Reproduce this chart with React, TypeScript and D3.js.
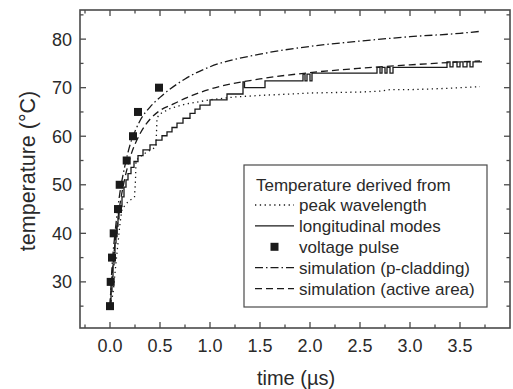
import React from "react";
import * as d3 from "d3";

const W = 513;
const H = 389;

const xTicks = [0, 0.5, 1.0, 1.5, 2.0, 2.5, 3.0, 3.5];
const xMinor = [-0.25, 0.25, 0.75, 1.25, 1.75, 2.25, 2.75, 3.25, 3.75];
const yTicks = [30, 40, 50, 60, 70, 80];
const yMinor = [25, 35, 45, 55, 65, 75, 85];

// voltage pulse (squares)
const pulseT = [0.0, 0.007, 0.02, 0.037, 0.08, 0.097, 0.167, 0.23, 0.28, 0.49];
const pulseV = [25, 30, 35, 40, 45, 50, 55, 60, 65, 70];

// simulation (p-cladding), dash-dot
const pcladT = [0, 0.02, 0.05, 0.1, 0.15, 0.2, 0.25, 0.3, 0.4, 0.5, 0.75, 1.0, 1.5, 2.0, 2.5, 3.0, 3.5, 3.7];
const pcladV = [25, 33, 40, 48.5, 54, 58.2, 61, 63.2, 66, 68, 71.8, 74.3, 76.9, 78.5, 79.6, 80.5, 81.2, 81.6];

// simulation (active area), dashed
const activeT = [0, 0.02, 0.05, 0.1, 0.15, 0.2, 0.3, 0.4, 0.5, 0.63, 0.75, 1.0, 1.5, 2.0, 2.5, 3.0, 3.5, 3.7];
const activeV = [25, 31, 38, 46, 51.5, 55.5, 60.5, 63.5, 65.3, 66.6, 67.8, 69.7, 71.8, 73.1, 74.0, 74.7, 75.3, 75.5];

// peak wavelength, dotted
const peakT = [0, 0.03, 0.06, 0.1, 0.12, 0.18, 0.245, 0.255, 0.26, 0.3, 0.35, 0.4, 0.46, 0.47, 0.5, 0.6, 0.75, 1.0, 1.25, 1.5, 2.0, 2.5, 2.7, 2.8, 3.0, 3.3, 3.5, 3.7];
const peakV = [25, 27.5, 34, 42, 45, 46.5, 47.5, 51, 55, 55.8, 56.5, 57.1, 57.8, 63.8, 64.6, 65.7, 66.6, 67.5, 68.1, 68.4, 68.9, 69.1, 69.3, 69.6, 69.6, 69.8, 70, 70.2];

// longitudinal modes, solid staircase (step starts)
const modesT = [0, 0.01, 0.02, 0.03, 0.04, 0.05, 0.06, 0.07, 0.08, 0.09, 0.1, 0.12, 0.14, 0.16, 0.18, 0.21, 0.24, 0.28, 0.33, 0.4, 0.46, 0.52, 0.57, 0.62, 0.67, 0.73, 0.8, 0.85, 0.9, 1.0, 1.17, 1.33, 1.345, 1.55, 1.93, 1.95, 1.97, 2.0, 2.02, 2.08, 2.67, 2.7, 2.72, 2.75, 2.77, 2.8, 2.83, 2.87, 3.37, 3.4, 3.43, 3.47, 3.5, 3.53, 3.57, 3.6, 3.63, 3.72];
const modesV = [25, 28, 31, 33.5, 36, 38, 40, 41.5, 43, 44.5, 45.5, 47.5, 49.5, 51, 52.3, 53.6, 54.8, 56, 57.2, 58.2, 59.2, 60.1, 60.9, 61.8, 62.7, 63.7, 64.7, 65.6, 66.4, 67.5, 68.7, 71.2, 70.0, 71.4, 72.8, 71.4, 72.8, 71.4, 73, 73, 74.2, 73, 74.2, 73, 74.2, 73, 74.2, 74.2, 75.3, 74.3, 75.3, 74.3, 75.3, 74.3, 75.3, 74.3, 75.3, 75.3];

const legendItems = [
  "peak wavelength",
  "longitudinal modes",
  "voltage pulse",
  "simulation (p-cladding)",
  "simulation (active area)",
];

const FONT = "'Liberation Sans', Arial, sans-serif";
const INK = "#1a1a1a";
const AXIS = "#4a4a4a";

export default function App() {
  const x = d3.scaleLinear().domain([-0.3, 4.0]).range([80, 510]);
  const y = d3.scaleLinear().domain([20.5, 86]).range([328, 10]);

  const zip = (a: number[], b: number[]) => a.map((t, i) => [t, b[i]] as [number, number]);
  const smooth = d3
    .line<[number, number]>()
    .x((d) => x(d[0]))
    .y((d) => y(d[1]))
    .curve(d3.curveMonotoneX);
  const straight = d3
    .line<[number, number]>()
    .x((d) => x(d[0]))
    .y((d) => y(d[1]));
  const stepLine = d3
    .line<[number, number]>()
    .x((d) => x(d[0]))
    .y((d) => y(d[1]))
    .curve(d3.curveStepAfter);

  const x0 = 80, x1 = 510, y0 = 10, y1 = 328;

  const lx = 244, ly = 165, lw = 243, lh = 142;
  const rowY = (i: number) => 205 + i * 20.9;
  const sx0 = 255, sx1 = 294, tx = 299;

  return (
    <svg width={W} height={H} style={{ position: "absolute", left: 0, top: 0, background: "#fff" }}>
      <rect x={0} y={0} width={W} height={H} fill="#fff" />
      {/* curves */}
      <g fill="none" stroke={INK} strokeWidth={1.3}>
        <path d={smooth(zip(pcladT, pcladV)) || ""} strokeDasharray="8,3,1.5,3" />
        <path d={smooth(zip(activeT, activeV)) || ""} strokeDasharray="7,4" />
        <path d={straight(zip(peakT, peakV)) || ""} strokeDasharray="1.3,3.5" />
        <path d={stepLine(zip(modesT, modesV)) || ""} />
      </g>
      <g fill={INK}>
        {pulseT.map((t, i) => (
          <rect key={i} x={x(t) - 4} y={y(pulseV[i]) - 4} width={8} height={8} />
        ))}
      </g>

      {/* frame */}
      <rect x={x0} y={y0} width={x1 - x0} height={y1 - y0} fill="none" stroke={AXIS} strokeWidth={1.6} />
      <g stroke={AXIS} strokeWidth={1.3}>
        {xTicks.map((t) => (
          <g key={"xt" + t}>
            <line x1={x(t)} x2={x(t)} y1={y1} y2={y1 - 6} />
            <line x1={x(t)} x2={x(t)} y1={y0} y2={y0 + 6} />
          </g>
        ))}
        {xMinor.map((t) => (
          <g key={"xm" + t}>
            <line x1={x(t)} x2={x(t)} y1={y1} y2={y1 - 3.5} />
            <line x1={x(t)} x2={x(t)} y1={y0} y2={y0 + 3.5} />
          </g>
        ))}
        {yTicks.map((v) => (
          <g key={"yt" + v}>
            <line x1={x0} x2={x0 + 6} y1={y(v)} y2={y(v)} />
            <line x1={x1} x2={x1 - 6} y1={y(v)} y2={y(v)} />
          </g>
        ))}
        {yMinor.map((v) => (
          <g key={"ym" + v}>
            <line x1={x0} x2={x0 + 3.5} y1={y(v)} y2={y(v)} />
            <line x1={x1} x2={x1 - 3.5} y1={y(v)} y2={y(v)} />
          </g>
        ))}
      </g>
      <g fontFamily={FONT} fontSize={18} fill="#2a2a2a">
        {xTicks.map((t) => (
          <text key={"xl" + t} x={x(t)} y={352} textAnchor="middle">
            {d3.format(".1f")(t)}
          </text>
        ))}
        {yTicks.map((v) => (
          <text key={"yl" + v} x={72} y={y(v) + 6.5} textAnchor="end">
            {v}
          </text>
        ))}
      </g>
      <text x={296} y={385} textAnchor="middle" fontFamily={FONT} fontSize={20} fill="#2a2a2a">
        time (µs)
      </text>
      <text
        transform={`translate(35, ${(y0 + y1) / 2 + 2}) rotate(-90)`}
        textAnchor="middle"
        fontFamily={FONT}
        fontSize={21.5}
        fill="#2a2a2a"
      >
        temperature (°C)
      </text>

      {/* legend */}
      <rect x={lx} y={ly} width={lw} height={lh} fill="#fff" stroke={AXIS} strokeWidth={1.2} />
      <g fontFamily={FONT} fontSize={17} fill="#2a2a2a">
        <text x={256} y={191}>Temperature derived from</text>
        {legendItems.map((s, i) => (
          <text key={s} x={tx} y={rowY(i) + 6}>
            {s}
          </text>
        ))}
      </g>
      <g stroke={INK} strokeWidth={1.3} fill="none">
        <line x1={sx0} x2={sx1} y1={rowY(0)} y2={rowY(0)} strokeDasharray="1.3,3.5" />
        <line x1={sx0} x2={sx1} y1={rowY(1)} y2={rowY(1)} />
        <line x1={sx0} x2={sx1} y1={rowY(3)} y2={rowY(3)} strokeDasharray="8,3,1.5,3" />
        <line x1={sx0} x2={sx1} y1={rowY(4)} y2={rowY(4)} strokeDasharray="7,4" />
      </g>
      <rect x={(sx0 + sx1) / 2 - 4} y={rowY(2) - 4} width={8} height={8} fill={INK} />
    </svg>
  );
}
